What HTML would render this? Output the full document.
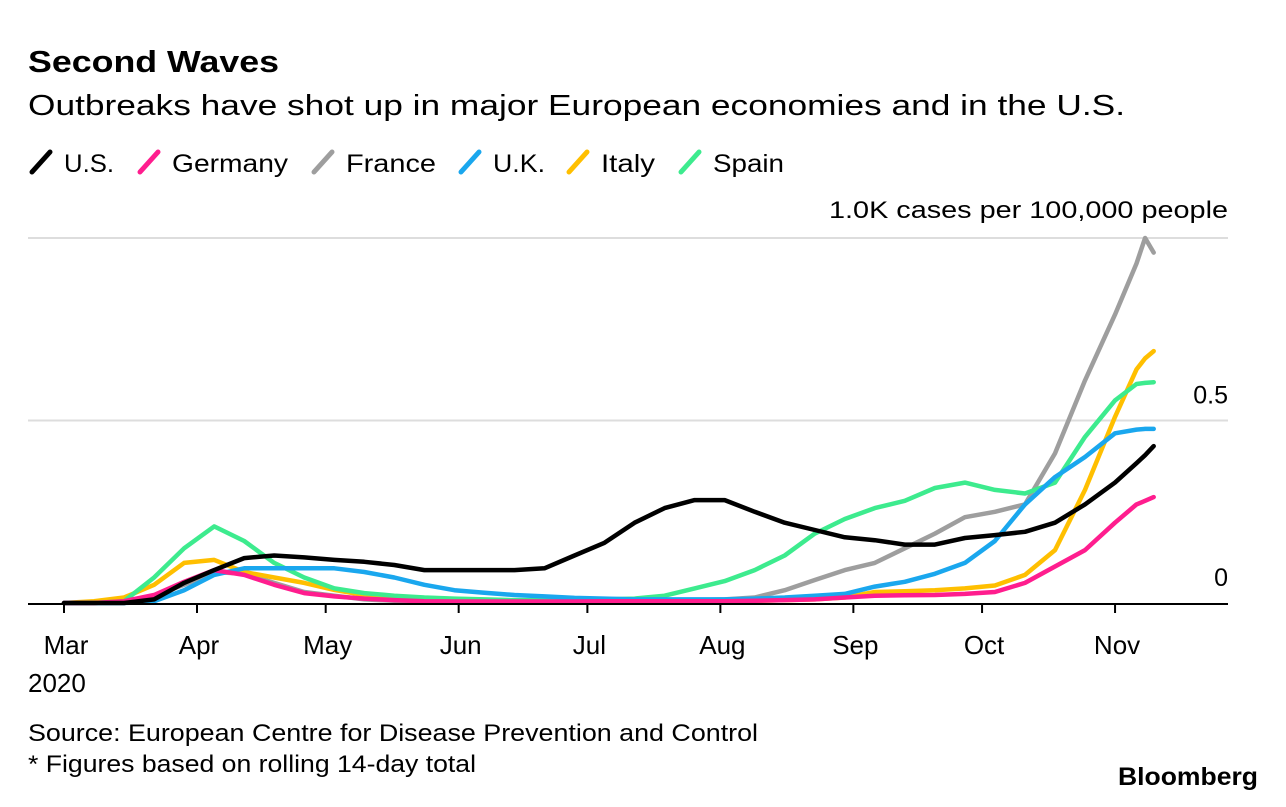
<!DOCTYPE html>
<html><head><meta charset="utf-8"><style>
body{margin:0;background:#fff;width:1286px;height:802px;overflow:hidden;font-family:"Liberation Sans",sans-serif;color:#000}
svg text{font-family:"Liberation Sans",sans-serif}
</style></head><body>
<svg id="chart" width="1286" height="802" xmlns="http://www.w3.org/2000/svg">
<text x="28" y="72" font-size="31" font-weight="bold" textLength="251" lengthAdjust="spacingAndGlyphs">Second Waves</text>
<text x="28" y="115" font-size="29" textLength="1097" lengthAdjust="spacingAndGlyphs">Outbreaks have shot up in major European economies and in the U.S.</text>
<g id="legend"></g>
<text x="829" y="218" font-size="24" textLength="399" lengthAdjust="spacingAndGlyphs">1.0K cases per 100,000 people</text>
<g id="grid"></g><g id="lines"></g><g id="xaxis"></g>
<text x="28" y="741" font-size="24" textLength="730" lengthAdjust="spacingAndGlyphs">Source: European Centre for Disease Prevention and Control</text>
<text x="28" y="772" font-size="24" textLength="448" lengthAdjust="spacingAndGlyphs">* Figures based on rolling 14-day total</text>
<text x="1118" y="785" font-size="25" font-weight="bold" textLength="140" lengthAdjust="spacingAndGlyphs">Bloomberg</text>
</svg>
<script>
const days=[0,7,14,21,28,35,42,49,56,63,70,77,84,91,98,105,112,119,126,133,140,147,154,161,168,175,182,189,196,203,210,217,224,231,238,245,250,252,254];
const usVals=[0,0,0,0.01,0.055,0.09,0.123,0.13,0.125,0.118,0.113,0.104,0.09,0.09,0.09,0.09,0.095,0.13,0.165,0.22,0.26,0.282,0.282,0.25,0.22,0.2,0.18,0.172,0.16,0.16,0.178,0.186,0.195,0.22,0.27,0.33,0.383,0.405,0.43];
const germanyVals=[0,0,0.005,0.022,0.058,0.09,0.077,0.05,0.027,0.018,0.012,0.008,0.005,0.004,0.004,0.004,0.004,0.004,0.005,0.005,0.005,0.005,0.005,0.006,0.008,0.01,0.015,0.02,0.021,0.022,0.025,0.03,0.055,0.1,0.145,0.22,0.27,0.28,0.29];
const franceVals=[0,0,0.005,0.02,0.05,0.085,0.08,0.055,0.03,0.02,0.01,0.006,0.005,0.004,0.004,0.004,0.004,0.004,0.005,0.005,0.006,0.008,0.01,0.015,0.035,0.063,0.09,0.11,0.15,0.19,0.235,0.25,0.27,0.41,0.61,0.79,0.93,1.0,0.96];
const ukVals=[0,0,0,0.005,0.035,0.077,0.095,0.095,0.095,0.095,0.085,0.07,0.05,0.035,0.028,0.022,0.018,0.014,0.012,0.01,0.01,0.01,0.01,0.012,0.015,0.02,0.025,0.045,0.058,0.08,0.11,0.17,0.27,0.345,0.4,0.465,0.475,0.477,0.477];
const italyVals=[0,0.005,0.015,0.05,0.11,0.118,0.085,0.07,0.055,0.036,0.022,0.015,0.01,0.007,0.005,0.005,0.005,0.005,0.005,0.005,0.005,0.005,0.005,0.006,0.008,0.01,0.015,0.03,0.032,0.035,0.04,0.048,0.077,0.145,0.31,0.51,0.64,0.67,0.69];
const spainVals=[0,0,0.005,0.07,0.15,0.21,0.17,0.11,0.07,0.04,0.027,0.02,0.015,0.012,0.01,0.008,0.008,0.008,0.01,0.012,0.02,0.04,0.06,0.09,0.13,0.19,0.23,0.26,0.28,0.315,0.33,0.31,0.3,0.33,0.455,0.555,0.6,0.603,0.605];
const seriesNames=["U.S.","Germany","France","U.K.","Italy","Spain"];
const seriesColors=["#000000","#ff1d8e","#9e9e9e","#1aa7ee","#ffbf00","#3deb8e"];
const monthLabels=["Mar","Apr","May","Jun","Jul","Aug","Sep","Oct","Nov"];
const monthDays=[0,31,61,92,122,153,184,214,245];
const yTicks=[0,0.5];
const yTickLabels=["0","0.5"];
const NS="http://www.w3.org/2000/svg";
const X0=64,PXD=4.29,Y0=603,PXV=365;
const xs=d=>X0+d*PXD, ys=v=>Y0-v*PXV;
function mk(t,a,p){const e=document.createElementNS(NS,t);for(const k in a)e.setAttribute(k,a[k]);p.appendChild(e);return e;}
const grid=document.getElementById('grid');
const gl=mk('line',{x1:28,x2:1228,y1:ys(1),y2:ys(1),stroke:'#ddd','stroke-width':2},grid);


yTicks.forEach((v,i)=>{
  if(v>0){const l=mk('line',{x1:28,x2:1228,y1:ys(v),y2:ys(v),stroke:'#ddd','stroke-width':2},grid);
  
  }
  const t=mk('text',{x:1228,y:ys(v)-17,'font-size':25,'text-anchor':'end'},grid);t.textContent=yTickLabels[i];
  
  
});
const all=[usVals,germanyVals,franceVals,ukVals,italyVals,spainVals];
const lines=document.getElementById('lines');
[2,4,5,3,1,0].forEach(si=>{
  const d=days.map((dd,i)=>(i?'L':'M')+xs(dd).toFixed(1)+','+ys(all[si][i]).toFixed(1)).join('');
  const p=mk('path',{d:d,fill:'none',stroke:seriesColors[si],'stroke-width':4.5,'stroke-linejoin':'round','stroke-linecap':'round'},lines);
  
  
});
const xa=document.getElementById('xaxis');
const ax=mk('line',{x1:28,x2:1228,y1:Y0+1,y2:Y0+1,stroke:'#000','stroke-width':2},xa);


monthDays.forEach((d,i)=>{
  const tk=mk('line',{x1:xs(d),x2:xs(d),y1:Y0,y2:Y0+10,stroke:'#000','stroke-width':2},xa);
  
  
  const t=mk('text',{x:xs(d)+2,y:654,'font-size':26,'text-anchor':'middle'},xa);t.textContent=monthLabels[i];
  
  
});
const yr=mk('text',{x:28,y:692,'font-size':26},xa);yr.textContent="2020";


const lg=document.getElementById('legend');
const lx=[64,172,346,493,601,713];
const lw=[50,116,90,52,54,71];
seriesNames.forEach((n,i)=>{
  const g=mk('g',{},lg);
  
  
  mk('line',{x1:lx[i]-32,y1:172,x2:lx[i]-14,y2:152,stroke:seriesColors[i],'stroke-width':5,'stroke-linecap':'round'},g);
  const t=mk('text',{x:lx[i],y:172,'font-size':25,textLength:lw[i],lengthAdjust:'spacingAndGlyphs'},g);t.textContent=n;
});
</script>
</body></html>
